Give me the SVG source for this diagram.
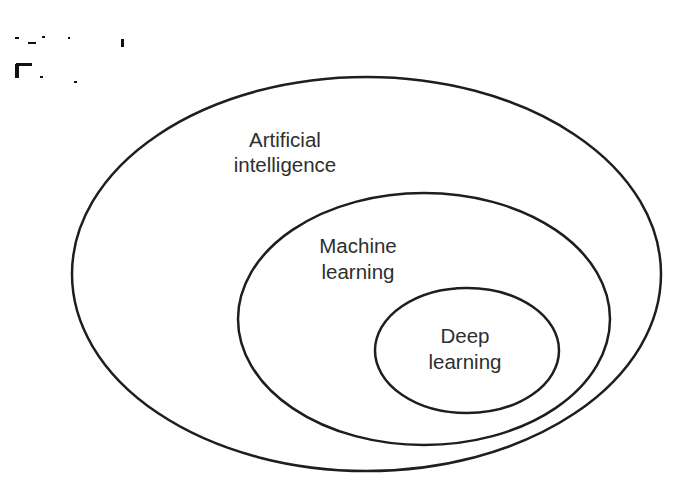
<svg xmlns="http://www.w3.org/2000/svg" width="677" height="483" viewBox="0 0 677 483">
<style>
.ring{fill:none;stroke:#1e1e1e;stroke-width:2.5}
.lbl{font-family:"Liberation Sans",Arial,sans-serif;font-size:20.5px;fill:#2e2e2e;text-anchor:middle}
.mark{fill:#111}
</style>
<rect width="677" height="483" fill="#fff"/>
<g id="noise">
<rect class="mark" x="15" y="37" width="4" height="2"/>
<rect class="mark" x="28" y="42" width="8" height="2"/>
<rect class="mark" x="42" y="36" width="3" height="2"/>
<rect class="mark" x="68" y="37" width="2" height="2"/>
<rect class="mark" x="121" y="39" width="3" height="8"/>
<rect class="mark" x="16" y="63" width="16" height="3"/>
<rect class="mark" x="15" y="64" width="4" height="14"/>
<rect class="mark" x="40" y="76" width="3" height="2"/>
<rect class="mark" x="74" y="81" width="3" height="2"/>
</g>
<g id="ai">
<ellipse class="ring" cx="366.5" cy="274" rx="294.5" ry="197"/>
<text class="lbl" x="285" y="147">Artificial</text>
<text class="lbl" x="285" y="172">intelligence</text>
</g>
<g id="ml">
<ellipse class="ring" cx="424" cy="319" rx="186" ry="126"/>
<text class="lbl" x="358" y="253">Machine</text>
<text class="lbl" x="358" y="279">learning</text>
</g>
<g id="dl">
<ellipse class="ring" cx="467" cy="350.5" rx="92" ry="62.5"/>
<text class="lbl" x="465" y="343">Deep</text>
<text class="lbl" x="465" y="369">learning</text>
</g>
<g id="connectors"/>
</svg>
